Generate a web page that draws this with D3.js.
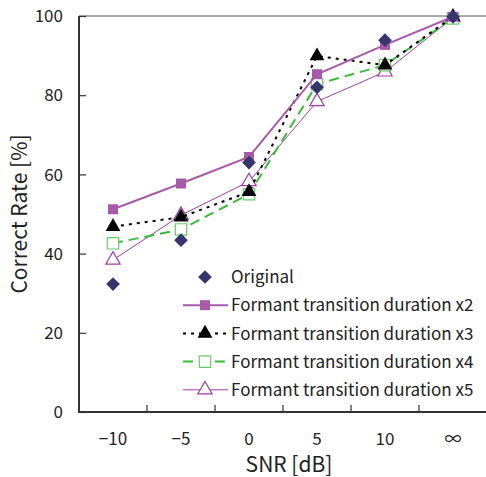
<!DOCTYPE html>
<html>
<head>
<meta charset="utf-8">
<script src="https://cdn.jsdelivr.net/npm/d3@7"></script>
<style>
  body { margin: 0; background: #fff; }
  text { font-family: "Noto Sans CJK JP", "Noto Sans", sans-serif; fill: #222; }
</style>
</head>
<body>
<svg id="chart" width="486" height="477"></svg>
<script>
// data
var snrLabels = ['\u221210', '\u22125', '0', '5', '10', '\u221e'];
var original = [32.3, 43.4, 63.0, 82.0, 93.9, 99.8];
var durX2 = [51.2, 57.7, 64.4, 85.3, 92.7, 99.8];
var durX3 = [46.8, 49.2, 55.6, 89.9, 87.6, 99.8];
var durX4 = [42.6, 46.1, 55.0, 82.8, 87.6, 99.4];
var durX5 = [38.4, 49.7, 58.2, 78.4, 85.9, 99.6];
var yTicks = [0, 20, 40, 60, 80, 100];

var svg = d3.select('#chart');
var plotLeft = 79, plotTop = 16, plotBottom = 412, plotRight = 487;

var x = d3.scaleBand().domain(snrLabels).range([plotLeft, plotRight]);
var y = d3.scaleLinear().domain([0, 100]).range([plotBottom, plotTop]);

var series = [
  {name: 'Original', values: original, color: '#36366c', dash: null, symbol: 'diamond', fill: true, lw: 0},
  {name: 'Formant transition duration x2', values: durX2, color: '#a65aa8', dash: null, symbol: 'square', fill: true, lw: 2},
  {name: 'Formant transition duration x3', values: durX3, color: '#000', dash: '3,5', symbol: 'triangle', fill: true, lw: 2},
  {name: 'Formant transition duration x4', values: durX4, color: '#3cb83c', dash: '10,6', symbol: 'square', fill: false, lw: 2},
  {name: 'Formant transition duration x5', values: durX5, color: '#9b3fa0', dash: null, symbol: 'triangle', fill: false, lw: 1}
];

// top frame line
svg.append('line')
    .attr('x1', plotLeft).attr('x2', 486).attr('y1', plotTop).attr('y2', plotTop)
    .attr('stroke', '#555').attr('stroke-width', 1);

// y axis with inner ticks
var yAxis = d3.axisRight(y).tickValues(yTicks).tickSize(7).tickFormat('');
var gy = svg.append('g').attr('transform', `translate(${plotLeft},0)`).call(yAxis);
gy.select('.domain').remove();
gy.selectAll('line').attr('stroke', '#333').attr('stroke-width', 1.2);
svg.selectAll('.ylab')
    .data(yTicks)
    .join('text')
    .attr('x', 63).attr('y', d => y(d)).attr('dy', '0.36em')
    .attr('text-anchor', 'end').attr('font-size', 17)
    .text(d => d);

// x axis: ticks between categories, pointing up
var between = snrLabels.slice(1).map(d => x(d));
svg.selectAll('.xtick')
    .data(between)
    .join('line')
    .attr('x1', d => d).attr('x2', d => d)
    .attr('y1', plotBottom).attr('y2', plotBottom - 7)
    .attr('stroke', '#333').attr('stroke-width', 1.2);
svg.selectAll('.xlab')
    .data(snrLabels)
    .join('text')
    .attr('x', d => x(d) + x.bandwidth() / 2).attr('y', 439).attr('dy', '0.36em')
    .attr('text-anchor', 'middle').attr('font-size', 17)
    .text(d => d);

svg.append('line').attr('x1', plotLeft).attr('x2', 486).attr('y1', plotBottom).attr('y2', plotBottom)
    .attr('stroke', '#333').attr('stroke-width', 2);
svg.append('line').attr('x1', plotLeft).attr('x2', plotLeft).attr('y1', plotTop).attr('y2', plotBottom + 1)
    .attr('stroke', '#333').attr('stroke-width', 2);

// axis titles
svg.append('text')
    .attr('transform', `translate(27,${(plotTop + plotBottom) / 2}) rotate(-90)`)
    .attr('text-anchor', 'middle').attr('font-size', 21)
    .text('Correct Rate [%]');
svg.append('text')
    .attr('x', 289).attr('y', 472)
    .attr('text-anchor', 'middle').attr('font-size', 21)
    .text('SNR [dB]');

function symbolFor(s) {
  if (s.symbol === 'diamond') return d3.symbol().type(d3.symbolDiamond2).size(120)();
  if (s.symbol === 'square') return d3.symbol().type(d3.symbolSquare).size(s.fill ? 100 : 130)();
  return d3.symbol().type(d3.symbolTriangle).size(s.fill ? 95 : 90)();
}

function drawMarker(g, s, px, py) {
  g.append('path')
      .attr('d', symbolFor(s))
      .attr('transform', `translate(${px},${py})`)
      .attr('fill', s.fill ? s.color : '#fff')
      .attr('stroke', s.fill ? 'none' : (s.symbol === 'square' ? '#6cc86c' : s.color))
      .attr('stroke-width', 1.2);
}

var line = d3.line()
    .x((d, i) => x(snrLabels[i]) + x.bandwidth() / 2)
    .y(d => y(d));

// draw in reverse so Original/x2 sit on top
series.slice().reverse().forEach(function(s) {
  var g = svg.append('g');
  if (s.lw > 0) {
    g.append('path')
        .attr('d', line(s.values))
        .attr('fill', 'none')
        .attr('stroke', s.color)
        .attr('stroke-width', s.lw)
        .attr('stroke-dasharray', s.dash);
  }
  s.values.forEach(function(v, i) {
    drawMarker(g, s, x(snrLabels[i]) + x.bandwidth() / 2, y(v));
  });
});

// legend
var legend = svg.append('g');
series.forEach(function(s, i) {
  var ly = 277 + i * 28.2;
  var g = legend.append('g');
  if (s.lw > 0) {
    g.append('line')
        .attr('x1', 183).attr('x2', 228).attr('y1', ly).attr('y2', ly)
        .attr('stroke', s.color).attr('stroke-width', s.lw)
        .attr('stroke-dasharray', s.dash);
  }
  drawMarker(g, s, 205, ly);
  g.append('text')
      .attr('x', 231).attr('y', ly).attr('dy', '0.36em')
      .attr('font-size', 17)
      .text(s.name);
});
</script>
</body>
</html>
